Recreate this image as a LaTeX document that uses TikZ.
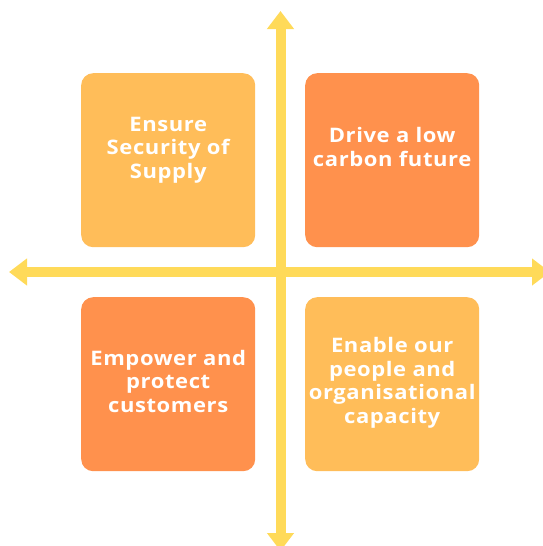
\documentclass[tikz,border=0pt]{standalone}
\usepackage{fontspec}
\setmainfont{Open Sans}[FakeStretch=1.1,LetterSpace=3]
\usetikzlibrary{arrows.meta}
\definecolor{lightorange}{HTML}{FFBD59}
\definecolor{deeporange}{HTML}{FF914D}
\definecolor{axisyellow}{HTML}{FFDA59}
\begin{document}
\begin{tikzpicture}[x=1pt,y=-1pt,
  quadbox/.style={rounded corners=12pt, minimum width=174pt, minimum height=174pt,
    inner sep=0pt, anchor=north west},
  quadtext/.style={text=white, align=center, font=\fontsize{20}{23.5}\selectfont\bfseries},
  axis/.style={axisyellow, line width=10pt,
    {Triangle[width=26pt,length=18pt]}-{Triangle[width=26pt,length=18pt]}}]
  \useasboundingbox (0,0) rectangle (543,546);
  % axes
  \coordinate (north) at (280.5,11);
  \coordinate (south) at (280.5,551);
  \coordinate (west) at (9,272);
  \coordinate (east) at (550,272);
  \draw[axis] (north) -- (south);
  \draw[axis] (west) -- (east);
  % quadrants
  \node[quadbox, fill=lightorange] (q1) at (81,73) {};
  \node[quadbox, fill=deeporange] (q2) at (305,73) {};
  \node[quadbox, fill=deeporange] (q3) at (81,297) {};
  \node[quadbox, fill=lightorange] (q4) at (305,297) {};
  \node[quadtext] (t1) at ([yshift=10pt]q1.center) {Ensure\\Security of\\Supply};
  \node[quadtext] (t2) at ([yshift=13pt]q2.center) {Drive a low\\carbon future};
  \node[quadtext] (t3) at ([yshift=3pt]q3.center) {Empower and\\protect\\customers};
  \node[quadtext] (t4) at ([yshift=1.5pt]q4.center) {Enable our\\people and\\organisational\\capacity};
\end{tikzpicture}
\end{document}
